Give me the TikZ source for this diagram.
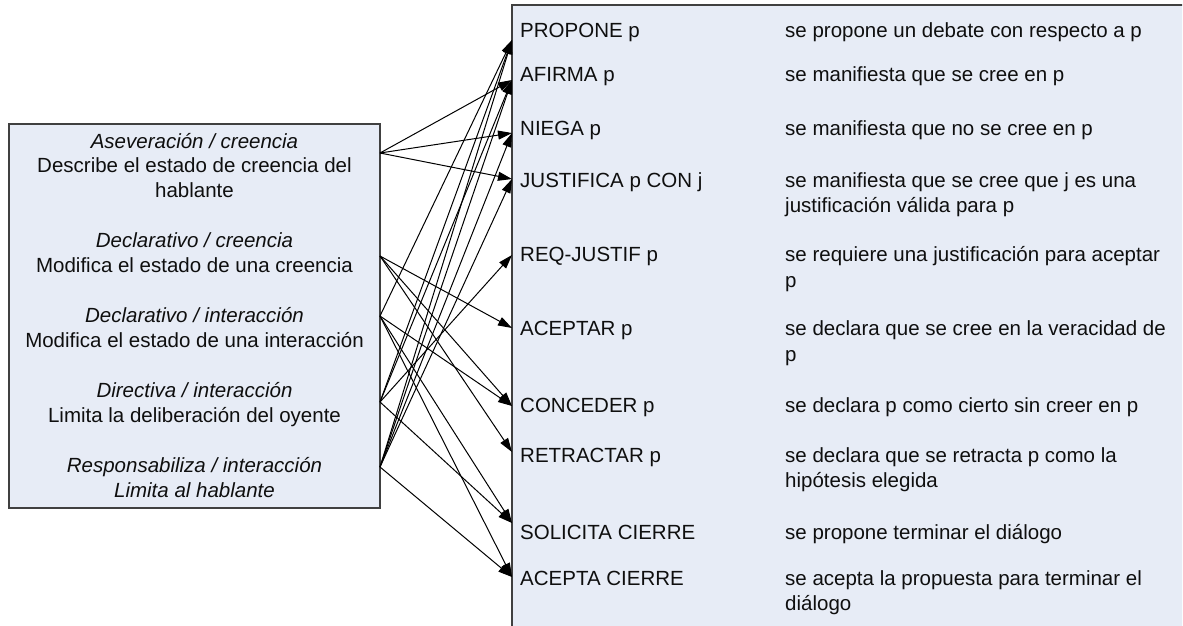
\documentclass[tikz,border=0pt]{standalone}
\usepackage{fontspec}
\setmainfont{Liberation Sans}
\usetikzlibrary{arrows.meta}
\definecolor{boxfill}{RGB}{231,236,246}
\definecolor{boxline}{RGB}{64,64,64}
\definecolor{ink}{RGB}{15,15,15}
\begin{document}
\begin{tikzpicture}[x=1pt,y=-1pt,
  panel/.style={draw=boxline,fill=boxfill,line width=1.4pt,inner sep=0pt,outer sep=0pt,anchor=north west},
  txt/.style={font=\fontsize{20.5}{24}\selectfont,text=ink,inner sep=0pt,anchor=base},
  term/.style={txt,anchor=base west},
  link/.style={draw=black,line width=1pt,-{Triangle[length=14pt,width=9pt]}}]

\useasboundingbox (0,0) rectangle (1183,625);

% right panel runs off the page at the right and bottom
\begin{scope}
  \clip (0,0) rectangle (1182,625);
  \node[panel,minimum width=690pt,minimum height=650pt] (R) at (512,5) {};
\end{scope}
% left panel
\node[panel,minimum width=371pt,minimum height=384pt] (L) at (9,124) {};

% speech act categories
\node[txt] (a1) at (194.5,148) {\textit{Aseveración / creencia}};
\node[txt] (a2) at (194.5,172) {Describe el estado de creencia del};
\node[txt] (a3) at (194.5,197) {hablante};
\node[txt] (b1) at (194.5,247) {\textit{Declarativo / creencia}};
\node[txt] (b2) at (194.5,272) {Modifica el estado de una creencia};
\node[txt] (c1) at (194.5,322) {\textit{Declarativo / interacción}};
\node[txt] (c2) at (194.5,347) {Modifica el estado de una interacción};
\node[txt] (d1) at (194.5,397) {\textit{Directiva / interacción}};
\node[txt] (d2) at (194.5,422) {Limita la deliberación del oyente};
\node[txt] (e1) at (194.5,472) {\textit{Responsabiliza / interacción}};
\node[txt] (e2) at (194.5,497) {\textit{Limita al hablante}};

% dialogue moves
\node[term] (m1)  at (520,37)  {PROPONE p};
\node[term] (m2)  at (520,81)  {AFIRMA p};
\node[term] (m3)  at (520,135) {NIEGA p};
\node[term] (m4)  at (520,187) {JUSTIFICA p CON j};
\node[term] (m5)  at (520,261) {REQ-JUSTIF p};
\node[term] (m6)  at (520,335) {ACEPTAR p};
\node[term] (m7)  at (520,412) {CONCEDER p};
\node[term] (m8)  at (520,462) {RETRACTAR p};
\node[term] (m9)  at (520,539) {SOLICITA CIERRE};
\node[term] (m10) at (520,585) {ACEPTA CIERRE};

% their meaning
\node[term] (g1)  at (785,37)  {se propone un debate con respecto a p};
\node[term] (g2)  at (785,81)  {se manifiesta que se cree en p};
\node[term] (g3)  at (785,135) {se manifiesta que no se cree en p};
\node[term] (g4)  at (785,187) {se manifiesta que se cree que j es una};
\node[term] (g4b) at (785,212) {justificación válida para p};
\node[term] (g5)  at (785,261) {se requiere una justificación para aceptar};
\node[term] (g5b) at (785,287) {p};
\node[term] (g6)  at (785,335) {se declara que se cree en la veracidad de};
\node[term] (g6b) at (785,361) {p};
\node[term] (g7)  at (785,412) {se declara p como cierto sin creer en p};
\node[term] (g8)  at (785,462) {se declara que se retracta p como la};
\node[term] (g8b) at (785,487) {hipótesis elegida};
\node[term] (g9)  at (785,539) {se propone terminar el diálogo};
\node[term] (g10) at (785,585) {se acepta la propuesta para terminar el};
\node[term] (g10b) at (785,610) {diálogo};

% ports on the panel edges
\coordinate (s1) at (L.east |- 0,153);
\coordinate (s2) at (L.east |- 0,256);
\coordinate (s3) at (L.east |- 0,316);
\coordinate (s4) at (L.east |- 0,402);
\coordinate (s5) at (L.east |- 0,467);
\coordinate (t1)  at (R.west |- 0,40);
\coordinate (t2)  at (R.west |- 0,80);
\coordinate (t3)  at (R.west |- 0,133);
\coordinate (t4)  at (R.west |- 0,179);
\coordinate (t5)  at (R.west |- 0,255);
\coordinate (t6)  at (R.west |- 0,328);
\coordinate (t7)  at (R.west |- 0,406);
\coordinate (t8)  at (R.west |- 0,452);
\coordinate (t9)  at (R.west |- 0,523);
\coordinate (t10) at (R.west |- 0,577);

% category -> move
\foreach \t in {t2,t3,t4} \draw[link] (s1) -- (\t);
\foreach \t in {t6,t7,t8} \draw[link] (s2) -- (\t);
\foreach \t in {t1,t7,t9,t10} \draw[link] (s3) -- (\t);
\foreach \t in {t1,t2,t5,t9} \draw[link] (s4) -- (\t);
\foreach \t in {t1,t2,t3,t4,t10} \draw[link] (s5) -- (\t);
\end{tikzpicture}
\end{document}
